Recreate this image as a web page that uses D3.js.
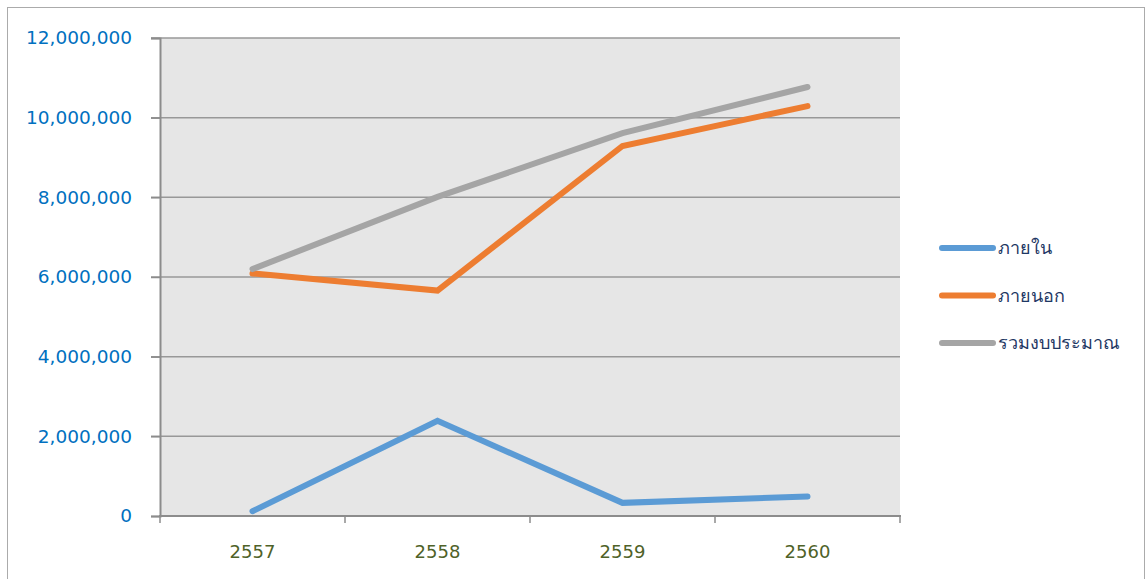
<!DOCTYPE html>
<html>
<head>
<meta charset="utf-8">
<script src="https://cdn.jsdelivr.net/npm/d3@7"></script>
<style>
  html, body { margin: 0; padding: 0; background: #fff; }
  svg { display: block; }
</style>
</head>
<body>
<svg id="chart" width="1146" height="579"></svg>
<script>
// Fiscal years (Buddhist era)
const years = ["2557", "2558", "2559", "2560"];
// Budget series, baht
const internalBudget = [120000, 2390000, 330000, 490000];
const externalBudget = [6090000, 5660000, 9290000, 10290000];
const totalBudget = [6200000, 8010000, 9610000, 10770000];
const seriesNames = ["ภายใน", "ภายนอก", "รวมงบประมาณ"];
const yTicks = [0, 2000000, 4000000, 6000000, 8000000, 10000000, 12000000];

const series = [
  { name: seriesNames[0], values: internalBudget, color: "#5B9BD5" },
  { name: seriesNames[1], values: externalBudget, color: "#ED7D31" },
  { name: seriesNames[2], values: totalBudget, color: "#A5A5A5" }
];

const svg = d3.select("#chart");
const plot = { left: 160, right: 900, top: 38, bottom: 516 };

// outer frame
svg.append("rect")
  .attr("x", 7.5).attr("y", 7.5)
  .attr("width", 1137).attr("height", 600)
  .attr("fill", "#fff")
  .attr("stroke", "#ababab").attr("stroke-width", 1);

const x = d3.scaleBand().domain(years).range([plot.left, plot.right]);
const y = d3.scaleLinear().domain([0, 12000000]).range([plot.bottom, plot.top]);

// plot background
svg.append("rect")
  .attr("x", plot.left).attr("y", plot.top)
  .attr("width", plot.right - plot.left).attr("height", plot.bottom - plot.top)
  .attr("fill", "#E6E6E6");

// horizontal gridlines
svg.append("g").selectAll("line").data(yTicks.filter(d => d > 0)).join("line")
  .attr("x1", plot.left - 9).attr("x2", plot.right)
  .attr("y1", d => y(d)).attr("y2", d => y(d))
  .attr("stroke", "#989898").attr("stroke-width", 1.5);

// y axis
const yAxis = svg.append("g")
  .attr("transform", `translate(${plot.left},0)`)
  .call(d3.axisLeft(y).tickValues(yTicks).tickSize(9).tickPadding(19)
    .tickFormat(d3.format(",")));
yAxis.select(".domain").attr("stroke", "#8c8c8c").attr("stroke-width", 2);
yAxis.selectAll(".tick line").attr("stroke", "#8c8c8c").attr("stroke-width", 1.5);
yAxis.selectAll("text")
  .attr("fill", "#0070C0")
  .style("font-family", "Tahoma, 'DejaVu Sans', sans-serif")
  .style("font-size", "18.5px");

// x axis with ticks at category boundaries
const xAxis = svg.append("g")
  .attr("transform", `translate(0,${plot.bottom})`)
  .call(d3.axisBottom(x).tickSize(0).tickPadding(29));
xAxis.select(".domain").remove();
xAxis.selectAll("text")
  .attr("fill", "#4F6228")
  .style("font-family", "Tahoma, 'DejaVu Sans', sans-serif")
  .style("font-size", "18px");
const bounds = years.map(d => x(d)).concat([x(years[years.length - 1]) + x.bandwidth()]);
svg.append("line")
  .attr("x1", plot.left - 1).attr("x2", plot.right + 1)
  .attr("y1", plot.bottom).attr("y2", plot.bottom)
  .attr("stroke", "#8c8c8c").attr("stroke-width", 2);
svg.append("g").selectAll("line").data(bounds).join("line")
  .attr("x1", d => d).attr("x2", d => d)
  .attr("y1", plot.bottom).attr("y2", plot.bottom + 7)
  .attr("stroke", "#8c8c8c").attr("stroke-width", 1.5);

// series lines
const line = d3.line()
  .x((d, i) => x(years[i]) + x.bandwidth() / 2)
  .y(d => y(d));
svg.append("g").selectAll("path").data(series).join("path")
  .attr("d", d => line(d.values))
  .attr("fill", "none")
  .attr("stroke", d => d.color)
  .attr("stroke-width", 6)
  .attr("stroke-linecap", "round")
  .attr("stroke-linejoin", "miter");

// legend
const legend = svg.append("g").selectAll("g").data(series).join("g")
  .attr("transform", (d, i) => `translate(942,${248 + i * 47.5})`);
legend.append("line")
  .attr("x1", 0).attr("x2", 51)
  .attr("stroke", d => d.color)
  .attr("stroke-width", 6)
  .attr("stroke-linecap", "round");
legend.append("text")
  .attr("x", 56).attr("y", 0).attr("dy", "0.35em")
  .attr("fill", "#1F3864")
  .style("font-family", "Tahoma, 'DejaVu Sans', 'Noto Sans', sans-serif")
  .style("font-size", "18px")
  .text(d => d.name);
</script>
</body>
</html>
